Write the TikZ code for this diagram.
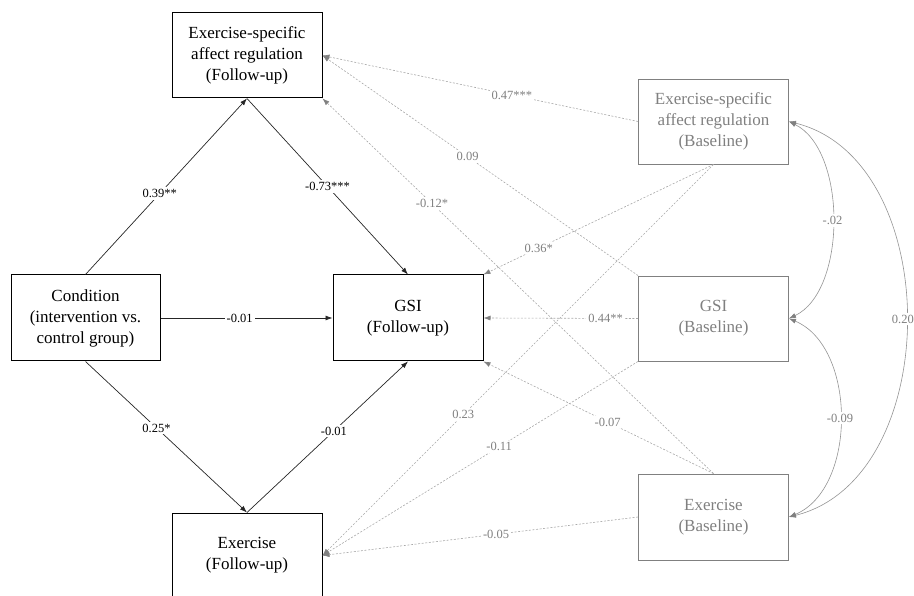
\documentclass[tikz,border=0pt]{standalone}
\usepackage{fontspec}
\setmainfont{Liberation Serif}
\usetikzlibrary{arrows.meta}
\definecolor{boxgray}{gray}{0.50}
\definecolor{dashgray}{gray}{0.66}
\definecolor{tipgray}{gray}{0.50}
\definecolor{labgray}{gray}{0.50}
\definecolor{covgray}{gray}{0.58}
\begin{document}
\begin{tikzpicture}  % ------ Modele de chemins : suivi et ligne de base --------
      [x=1pt,y=-1pt,
       fu/.style={draw=black,line width=1pt,minimum width=150pt,minimum height=85pt,
                  align=center,font=\fontsize{17}{21}\selectfont,inner sep=0pt},
       bl/.style={fu,draw=boxgray,line width=0.9pt,text=boxgray},
       path/.style={draw=black!85,line width=0.7pt,-{Latex[length=7pt,width=5pt]}},
       base/.style={draw=dashgray,line width=0.6pt,dash pattern=on 2pt off 1.6pt,
                    -{Latex[length=7pt,width=5pt,color=tipgray]}},
       cov/.style={draw=covgray,line width=0.6pt,
                   {Latex[length=7pt,width=5pt,color=tipgray]}-{Latex[length=7pt,width=5pt,color=tipgray]}},
       coef/.style={fill=white,font=\fontsize{12.5}{14}\selectfont,inner sep=2pt},
       gcoef/.style={coef,text=labgray}]

    \useasboundingbox (0,0) rectangle (914,596);

    \node[fu] (esarfu) at (247,55.5) {Exercise-specific\\affect regulation\\(Follow-up)};
    \node[fu,minimum width=149pt,minimum height=86pt] (cond) at (85.5,318)
          {Condition\\(intervention vs.\\control group)};
    \node[fu,minimum height=86pt] (gsifu) at (408,318) {GSI\\(Follow-up)};
    \node[fu] (exfu) at (247,555.5) {Exercise\\(Follow-up)};
    \node[bl] (esarbl) at (713.5,121.5) {Exercise-specific\\affect regulation\\(Baseline)};
    \node[bl] (gsibl) at (713.5,318.5) {GSI\\(Baseline)};
    \node[bl,minimum height=86pt] (exbl) at (713.5,517) {Exercise\\(Baseline)};

    % chemins du modele
    \draw[path] (cond.north) -- node[coef,pos=.46] {0.39**} (esarfu.south);
    \draw[path] (esarfu.south) -- node[coef,pos=.50] {-0.73***} (gsifu.north);
    \draw[path] (cond.east) -- node[coef,pos=.46] {-0.01} (gsifu.west);
    \draw[path] (cond.south) -- node[coef,pos=.44] {0.25*} (exfu.north);
    \draw[path] (exfu.north) -- node[coef,pos=.54] {-0.01} (gsifu.south);

    % effets de la ligne de base
    \draw[base] (esarbl.west) -- node[gcoef,pos=.40] {0.47***} (esarfu.east);
    \draw[base] (gsibl.north west) -- node[gcoef,pos=.54] {0.09} (esarfu.east);
    \draw[base] (exbl.north) -- node[gcoef,pos=.72] {-0.12*} (esarfu.south east);
    \draw[base] (esarbl.south) -- node[gcoef,pos=.76] {0.36*} (gsifu.north east);
    \draw[base] (gsibl.west) -- node[gcoef,pos=.21] {0.44**} (gsifu.east);
    \draw[base] (exbl.north) -- node[gcoef,pos=.46] {-0.07} (gsifu.south east);
    \draw[base] (esarbl.south) -- node[gcoef,pos=.64] {0.23} (exfu.east);
    \draw[base] (gsibl.south west) -- node[gcoef,pos=.44] {-0.11} (exfu.east);
    \draw[base] (exbl.west) -- node[gcoef,pos=.45] {-0.05} (exfu.east);

    % covariances
    \draw[cov] (esarbl.east) .. controls (847,150) and (847,291) .. node[gcoef] {-.02} (gsibl.east);
    \draw[cov] (gsibl.east) .. controls (857,347) and (857,489) .. node[gcoef] {-0.09} (exbl.east);
    \draw[cov] (esarbl.east) .. controls (945,160) and (945,478) .. node[gcoef] {0.20*} (exbl.east);
\end{tikzpicture}
\end{document}
